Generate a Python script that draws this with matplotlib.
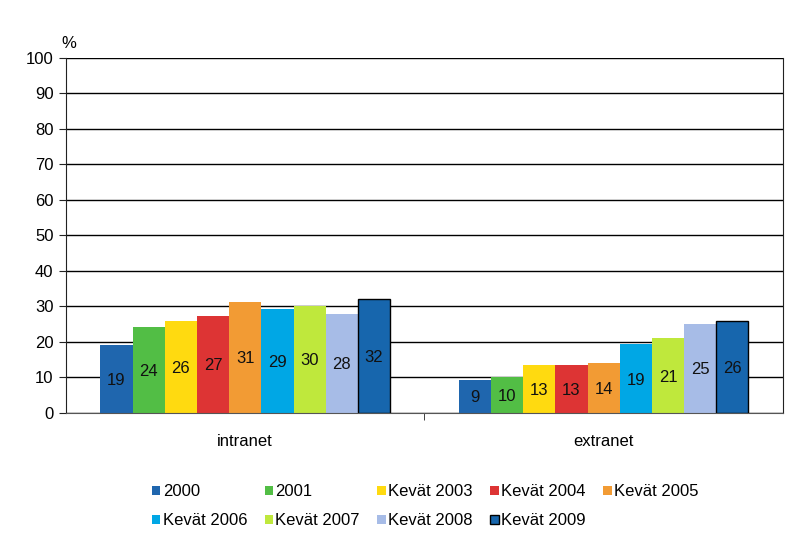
import numpy as np
import matplotlib
matplotlib.use('Agg')
from matplotlib import pyplot as plt
from matplotlib.ticker import FixedLocator

plt.rcParams['font.family'] = ['Liberation Sans', 'DejaVu Sans']

categories = ['intranet', 'extranet']
series = ['2000', '2001', 'Kevät 2003', 'Kevät 2004', 'Kevät 2005',
          'Kevät 2006', 'Kevät 2007', 'Kevät 2008', 'Kevät 2009']
intranet = [19.2, 24.2, 26.0, 27.4, 31.4, 29.3, 30.2, 27.9, 32.2]
extranet = [9.3, 10.2, 13.4, 13.4, 14.2, 19.3, 21.0, 25.2, 26.0]
colors = ['#1F66AE', '#52BE45', '#FFDA10', '#DD3434', '#F29B34',
          '#00A7E5', '#BFE83C', '#A7BCE7', '#1766AD']

fs = 12

fig = plt.figure(figsize=(7.86, 5.41), dpi=100)
ax = fig.add_axes([0.084, 0.2366, 0.912, 0.6562])

x = np.arange(len(categories))
w = 0.0898
handles = []
for i, name in enumerate(series):
  vals = [intranet[i], extranet[i]]
  pos = x + (i - 4) * w
  ec = 'black' if i == 8 else 'none'
  lw = 1.0 if i == 8 else 0
  b = ax.bar(pos, vals, w, color=colors[i], edgecolor=ec, linewidth=lw, zorder=3, label=name)
  handles.append(b)
  for p, v in zip(pos, vals):
    ax.text(p, v / 2 - 0.4, f'{round(v):d}', ha='center', va='center', fontsize=fs, color='#111111', zorder=4)

ax.set_xlim(-0.5, 1.5)
ax.set_ylim(0, 100)
ax.set_yticks(range(0, 101, 10))
ax.set_xticks(x)
ax.set_xticklabels(categories, fontsize=fs)
ax.tick_params(axis='x', which='major', length=0, pad=15)
ax.xaxis.set_minor_locator(FixedLocator([0.5]))
ax.tick_params(axis='x', which='minor', length=5, direction='out', color='#222222')
ax.tick_params(axis='y', length=5, direction='out', labelsize=fs, color='#222222', pad=4)
ax.yaxis.grid(True, color='black', linewidth=1.0, zorder=0)
ax.set_axisbelow(True)
ax.spines['top'].set_visible(False)
ax.spines['bottom'].set_color('#555555')
ax.spines['bottom'].set_zorder(5)
for s in ['left', 'right']:
  ax.spines[s].set_color('#222222')
ax.text(-0.006, 1.04, '%', transform=ax.transAxes, fontsize=fs, ha='left', va='center')

order = [0, 5, 1, 6, 2, 7, 3, 8, 4]
leg = fig.legend([handles[k] for k in order], [series[k] for k in order],
                 loc='center', bbox_to_anchor=(0.541, 0.064), ncol=5, frameon=False,
                 fontsize=fs, handlelength=0.5, handleheight=0.5, handletextpad=0.15,
                 columnspacing=1.05, labelspacing=0.85)

fig.savefig('out.png', dpi=100)
